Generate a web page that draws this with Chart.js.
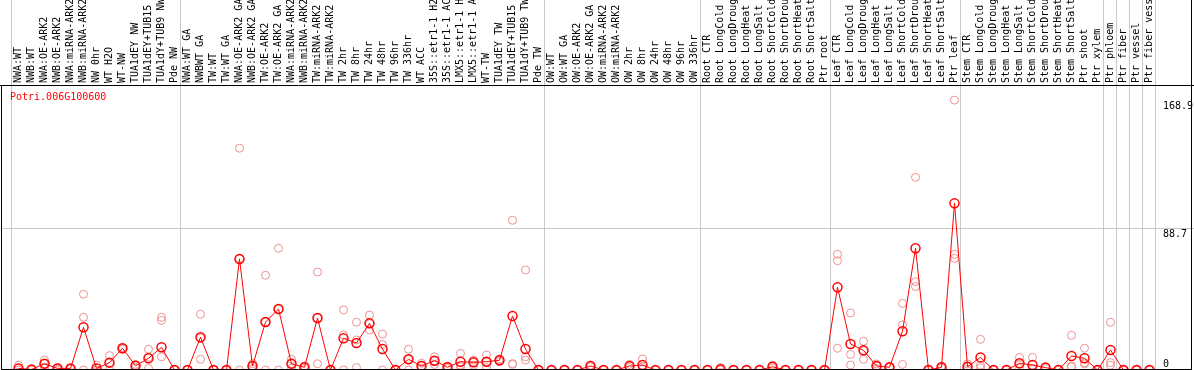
<!DOCTYPE html>
<html>
<head>
<meta charset="utf-8">
<script src="https://cdn.jsdelivr.net/npm/chart.js@4.4.1/dist/chart.umd.min.js"></script>
<style>
  html, body { margin: 0; padding: 0; background: #fff; overflow: hidden; }
</style>
</head>
<body>
<canvas id="chart" width="1194" height="370"></canvas>
<script>
const geneId = "Potri.006G100600";

const samples = [
  "NWA:WT", "NWB:WT", "NWA:OE-ARK2", "NWB:OE-ARK2", "NWA:miRNA-ARK2", "NWB:miRNA-ARK2",
  "NW 0hr", "WT H2O", "WT-NW", "TUA1dEY NW", "TUA1dEY+TUB15 NW", "TUA1dY+TUB9 NW", "Pde NW",
  "NWA:WT GA", "NWBWT GA", "TW:WT", "TW:WT GA", "NWA:OE-ARK2 GA", "NWB:OE-ARK2 GA",
  "TW:OE-ARK2", "TW:OE-ARK2 GA", "NWA:miRNA-ARK2", "NWB:miRNA-ARK2", "TW:miRNA-ARK2", "TW:miRNA-ARK2",
  "TW 2hr", "TW 8hr", "TW 24hr", "TW 48hr", "TW 96hr", "TW 336hr", "WT ACC",
  "35S::etr1-1 H2O", "35S::etr1-1 ACC", "LMX5::etr1-1 H2O", "LMX5::etr1-1 ACC", "WT-TW",
  "TUA1dEY TW", "TUA1dEY+TUB15 TW", "TUA1dY+TUB9 TW", "Pde TW",
  "OW:WT", "OW:WT GA", "OW:OE-ARK2", "OW:OE-ARK2 GA", "OW:miRNA-ARK2", "OW:miRNA-ARK2",
  "OW 2hr", "OW 8hr", "OW 24hr", "OW 48hr", "OW 96hr", "OW 336hr",
  "Root CTR", "Root LongCold", "Root LongDrought", "Root LongHeat", "Root LongSalt",
  "Root ShortCold", "Root ShortDrought", "Root ShortHeat", "Root ShortSalt", "Ptr root",
  "Leaf CTR", "Leaf LongCold", "Leaf LongDrought", "Leaf LongHeat", "Leaf LongSalt",
  "Leaf ShortCold", "Leaf ShortDrought", "Leaf ShortHeat", "Leaf ShortSalt", "Ptr leaf",
  "Stem CTR", "Stem LongCold", "Stem LongDrought", "Stem LongHeat", "Stem LongSalt",
  "Stem ShortCold", "Stem ShortDrought", "Stem ShortHeat", "Stem ShortSalt", "Ptr shoot",
  "Ptr xylem", "Ptr phloem", "Ptr fiber", "Ptr vessel", "Ptr fiber vessel"
];

// mean expression per sample
const means = [
  1, 0.3, 3.9, 1, 1, 26.7, 1, 4.6, 13.6, 2.7, 7.3, 14.2, 0,
  0, 20.5, 0, 0, 69.5, 2.5, 30, 38.2, 3.9, 1.7, 32.5, 0, 19.8, 16.9, 29.2, 13.1, 0,
  6.7, 2.5, 5.8, 1.7, 5.2, 4.8, 5.2, 6.1, 33.8, 13.1, 0,
  0, 0, 0, 2.5, 0, 0, 2.5, 3.1, 0, 0, 0, 0,
  0, 0.5, 0, 0, 0, 2, 0, 0, 0, 0,
  51.8, 16.3, 12.3, 2.5, 1.7, 24.2, 76.2, 0, 1.7, 104.3,
  2, 7.9, 0, 0, 4.2, 3.1, 1.5, 0, 8.8, 7.3, 0,
  12.5, 0, 0, 0
];

// individual replicates
const rep1 = [
  3, 0.5, 6.2, 1.5, 1, 47.4, 3, 9, 14, 3.5, 13, 33, 0,
  0, 34.9, 0, 0, 138.8, 4, 59.3, 76.2, 6.7, 2.5, 61.3, 0, 37.6, 29.9, 34.4, 22.5, 0,
  13, 4.2, 8.3, 2.5, 10.4, 6.2, 9.4, 6.9, 93.7, 62.6, 0,
  0, 0, 0, 3, 0, 0, 3.5, 6.9, 0, 0, 0, 0,
  0, 1.5, 0, 0, 0, 3, 0, 0, 0, 0,
  72.4, 35.7, 18, 3.8, 2, 41.7, 120.6, 0, 2.5, 168.9,
  3.8, 19.2, 0, 0, 7.9, 7.9, 2, 0, 21.7, 13.6, 0,
  29.9, 0, 0, 0
];
const rep2 = [
  0, 0, 4, 0.5, 1, 33, 0, 4.6, 13.6, 2.7, 8, 31, 0,
  0, 20, 0, 0, 69.7, 2.5, 30, 38, 3.9, 1.7, 32.5, 0, 21.9, 18.8, 29, 16, 0,
  6.7, 2.5, 5.8, 1.7, 3, 4.8, 5, 6, 4, 8.3, 0,
  0, 0, 0, 2.5, 0, 0, 2.5, 2, 0, 0, 0, 0,
  0, 0, 0, 0, 0, 2, 0, 0, 0, 0,
  68.4, 9.8, 12, 2.5, 1.7, 28.2, 55.3, 0, 1.7, 72.4,
  2, 3, 0, 0, 3.5, 1, 1.5, 0, 2.5, 4.5, 0,
  4.6, 0, 0, 0
];
const rep3 = [
  0, 0, 1, 0, 0.5, 0, 0, 0, 13, 1.5, 1, 8.3, 0,
  0, 6.7, 0, 0, 0, 1, 0, 0, 1, 1, 3.9, 0, 0, 1.5, 25, 0, 0,
  0, 1, 3.5, 1, 2, 3, 1.5, 5.2, 3.5, 6.2, 0,
  0, 0, 0, 2, 0, 0, 1.5, 0.5, 0, 0, 0, 0,
  0, 0, 0, 0, 0, 1, 0, 0, 0, 0,
  13.6, 3.1, 6.7, 1, 1.5, 3.5, 52.2, 0, 1, 69.9,
  0.5, 1.5, 0, 0, 1, 0.5, 1, 0, 2, 3.8, 0,
  3, 0, 0, 0
];

const yTicks = [0, 88.7, 168.9];
// sample index where a new group starts (vertical separators)
const groupStarts = [0, 13, 41, 53, 63, 73, 84, 85, 86, 87, 88];

const RED = "#ff0000";
const REP = "#ee9090";
const FONT = "'DejaVu Sans Mono', monospace";

const frame = {
  id: "frame",
  beforeDatasetsDraw(chart) {
    const { ctx, scales: { x, y } } = chart;
    const step = x.getPixelForValue(1) - x.getPixelForValue(0);
    ctx.save();
    ctx.strokeStyle = "#c8c8c8";
    ctx.lineWidth = 1;
    groupStarts.forEach((k) => {
      const px = Math.floor(x.left + k * step) - 1 + 0.5;
      ctx.beginPath();
      ctx.moveTo(px, 0);
      ctx.lineTo(px, chart.height);
      ctx.stroke();
    });
    const gy = Math.round(y.getPixelForValue(88.7)) + 0.5;
    ctx.beginPath();
    ctx.moveTo(2, gy);
    ctx.lineTo(chart.width, gy);
    ctx.stroke();

    ctx.fillStyle = RED;
    ctx.font = "10px " + FONT;
    ctx.textBaseline = "top";
    ctx.fillText(geneId, 10, 92);
    ctx.restore();
  },
  afterDatasetsDraw(chart) {
    const { ctx } = chart;
    ctx.save();
    ctx.strokeStyle = "#000";
    ctx.lineWidth = 1;
    ctx.beginPath();
    ctx.moveTo(0, 85.5); ctx.lineTo(chart.width, 85.5);
    ctx.moveTo(1.5, 85); ctx.lineTo(1.5, 370);
    ctx.moveTo(1, 369.5); ctx.lineTo(1192, 369.5);
    ctx.moveTo(1191.5, 0); ctx.lineTo(1191.5, 370);
    ctx.stroke();
    ctx.restore();
  }
};

const ctx = document.getElementById("chart").getContext("2d");

const repStyle = {
  type: "line",
  showLine: false,
  pointRadius: 4,
  pointBorderWidth: 1,
  pointBorderColor: REP,
  pointBackgroundColor: "rgba(0,0,0,0)",
  borderColor: REP,
};

new Chart(ctx, {
  type: "line",
  data: {
    labels: samples,
    datasets: [
      {
        label: "mean",
        data: means,
        borderColor: RED,
        borderWidth: 1,
        pointRadius: 4.5,
        pointBorderWidth: 1.5,
        pointBorderColor: RED,
        pointBackgroundColor: "rgba(0,0,0,0)",
        tension: 0,
      },
      { label: "rep1", data: rep1, ...repStyle },
      { label: "rep2", data: rep2, ...repStyle },
      { label: "rep3", data: rep3, ...repStyle },
    ],
  },
  options: {
    responsive: false,
    animation: false,
    devicePixelRatio: 1,
    layout: { autoPadding: false, padding: { left: 12, top: 0, right: 0, bottom: 0 } },
    plugins: { legend: { display: false }, tooltip: { enabled: false }, title: { display: false } },
    scales: {
      x: {
        position: "top",
        offset: true,
        grid: { display: false, drawTicks: false },
        border: { display: false },
        ticks: {
          autoSkip: false,
          minRotation: 90,
          maxRotation: 90,
          padding: 2,
          labelOffset: 12,
          color: "#000",
          font: { family: FONT, size: 10 },
        },
        afterFit(scale) {
          scale.height = 85;
          scale.paddingLeft = 0;
          scale.paddingRight = 0;
        },
      },
      y: {
        position: "right",
        min: 0,
        max: 168.9 * 1.056,
        grid: { display: false, drawTicks: false },
        border: { display: false },
        afterBuildTicks(scale) { scale.ticks = yTicks.map((v) => ({ value: v })); },
        afterFit(scale) {
          scale.width = 38;
          scale.paddingTop = 0;
          scale.paddingBottom = 0;
        },
        ticks: {
          padding: 7,
          color: "#000",
          font: { family: FONT, size: 10 },
          callback: (v) => (v === 0 ? ["0", ""] : ["", String(v)]),
        },
      },
    },
  },
  plugins: [frame],
});
</script>
</body>
</html>
